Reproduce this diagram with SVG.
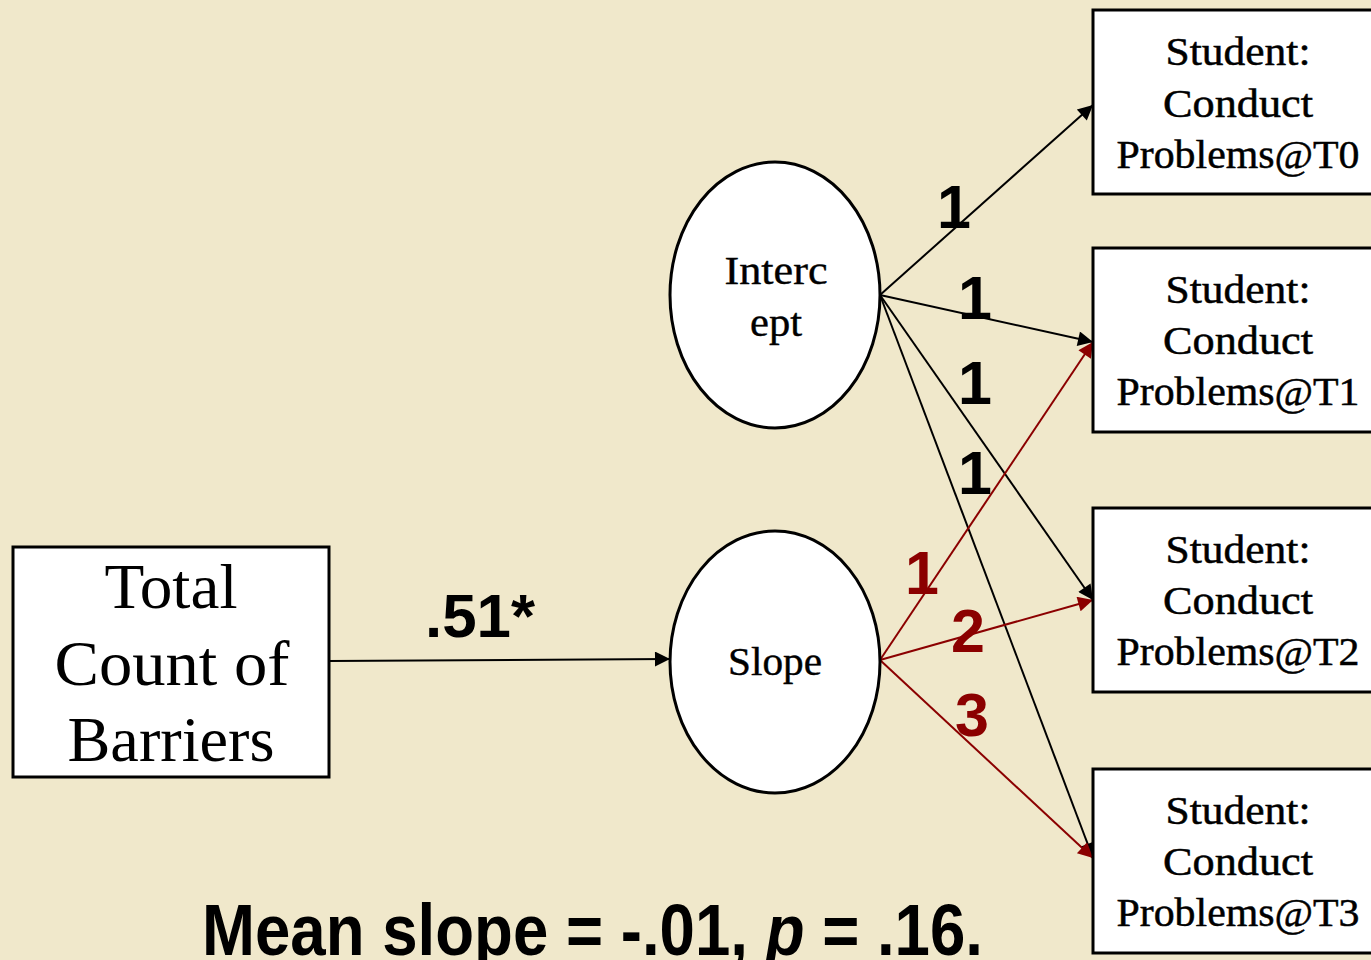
<svg xmlns="http://www.w3.org/2000/svg" width="1371" height="960" viewBox="0 0 1371 960">
<defs>
<marker id="ab" viewBox="0 0 10 10" refX="10" refY="5" markerWidth="17" markerHeight="15" markerUnits="userSpaceOnUse" orient="auto"><path d="M0,0 L10,5 L0,10 z" fill="#000"/></marker>
<marker id="ar" viewBox="0 0 10 10" refX="10" refY="5" markerWidth="17" markerHeight="15" markerUnits="userSpaceOnUse" orient="auto"><path d="M0,0 L10,5 L0,10 z" fill="#8b0000"/></marker>
</defs>
<style>
.box{fill:#fff;stroke:#000;stroke-width:3}
.st{font-family:"Liberation Serif",serif;font-size:41px;fill:#000;stroke:#000;stroke-width:0.5;text-anchor:middle}
.big{font-family:"Liberation Serif",serif;font-size:64px;fill:#000;text-anchor:middle}
.lat{font-family:"Liberation Serif",serif;font-size:39px;fill:#000;stroke:#000;stroke-width:0.4;text-anchor:middle}
.lb{fill:none;stroke:#000;stroke-width:2;marker-end:url(#ab)}
.lr{fill:none;stroke:#8b0000;stroke-width:2;marker-end:url(#ar)}
.n{font-family:"Liberation Sans",sans-serif;font-weight:bold;font-size:61px;fill:#000;text-anchor:middle}
.nr{font-family:"Liberation Sans",sans-serif;font-weight:bold;font-size:61px;fill:#8b0000;text-anchor:middle}
</style>
<rect width="1371" height="960" fill="#f0e8cb"/>
<g id="connectors">
<path class="lb" d="M329,661 L670,659"/>
<path class="lb" d="M880,295 L1093,105"/>
<path class="lb" d="M880,295 L1093,342"/>
<path class="lb" d="M880,295 L1093,600"/>
<path class="lb" d="M880,295 L1093,858"/>
<path class="lr" d="M880,660 L1093,342"/>
<path class="lr" d="M880,660 L1093,600"/>
<path class="lr" d="M880,660 L1093,858"/>
<text class="n" x="954" y="228">1</text>
<text class="n" x="975" y="319">1</text>
<text class="n" x="975" y="404">1</text>
<text class="n" x="975" y="494">1</text>
<text class="nr" x="922" y="594">1</text>
<text class="nr" x="968" y="652">2</text>
<text class="nr" x="972" y="736">3</text>
<text class="n" x="480" y="637" textLength="110" lengthAdjust="spacingAndGlyphs">.51*</text>
</g>
<g id="total">
<rect class="box" x="13" y="547" width="316" height="230"/>
<text class="big" x="171" y="608" textLength="133" lengthAdjust="spacingAndGlyphs">Total</text>
<text class="big" x="172" y="685" textLength="235" lengthAdjust="spacingAndGlyphs">Count of</text>
<text class="big" x="171" y="761" textLength="207" lengthAdjust="spacingAndGlyphs">Barriers</text>
</g>
<g id="intercept">
<ellipse cx="775" cy="295" rx="105" ry="133" fill="#fff" stroke="#000" stroke-width="3"/>
<text class="lat" x="776" y="284" textLength="103" lengthAdjust="spacingAndGlyphs">Interc</text>
<text class="lat" x="776" y="336" textLength="52" lengthAdjust="spacingAndGlyphs">ept</text>
</g>
<g id="slope">
<ellipse cx="775" cy="662" rx="105" ry="131" fill="#fff" stroke="#000" stroke-width="3"/>
<text class="lat" x="775" y="675" textLength="94" lengthAdjust="spacingAndGlyphs">Slope</text>
</g>
<g id="t0">
<rect class="box" x="1093" y="10" width="290" height="184"/>
<text class="st" x="1238" y="65" textLength="145" lengthAdjust="spacingAndGlyphs">Student:</text>
<text class="st" x="1238" y="117" textLength="150" lengthAdjust="spacingAndGlyphs">Conduct</text>
<text class="st" x="1238" y="168" textLength="243" lengthAdjust="spacingAndGlyphs">Problems@T0</text>
</g>
<g id="t1">
<rect class="box" x="1093" y="248" width="290" height="184"/>
<text class="st" x="1238" y="303" textLength="145" lengthAdjust="spacingAndGlyphs">Student:</text>
<text class="st" x="1238" y="354" textLength="150" lengthAdjust="spacingAndGlyphs">Conduct</text>
<text class="st" x="1238" y="405" textLength="243" lengthAdjust="spacingAndGlyphs">Problems@T1</text>
</g>
<g id="t2">
<rect class="box" x="1093" y="508" width="290" height="184"/>
<text class="st" x="1238" y="563" textLength="145" lengthAdjust="spacingAndGlyphs">Student:</text>
<text class="st" x="1238" y="614" textLength="150" lengthAdjust="spacingAndGlyphs">Conduct</text>
<text class="st" x="1238" y="665" textLength="243" lengthAdjust="spacingAndGlyphs">Problems@T2</text>
</g>
<g id="t3">
<rect class="box" x="1093" y="769" width="290" height="184"/>
<text class="st" x="1238" y="824" textLength="145" lengthAdjust="spacingAndGlyphs">Student:</text>
<text class="st" x="1238" y="875" textLength="150" lengthAdjust="spacingAndGlyphs">Conduct</text>
<text class="st" x="1238" y="926" textLength="243" lengthAdjust="spacingAndGlyphs">Problems@T3</text>
</g>
<text x="202" y="955" font-family="Liberation Sans, sans-serif" font-weight="bold" font-size="72" textLength="781" lengthAdjust="spacingAndGlyphs" fill="#000">Mean slope = -.01, <tspan font-style="italic">p</tspan> = .16.</text>
</svg>
